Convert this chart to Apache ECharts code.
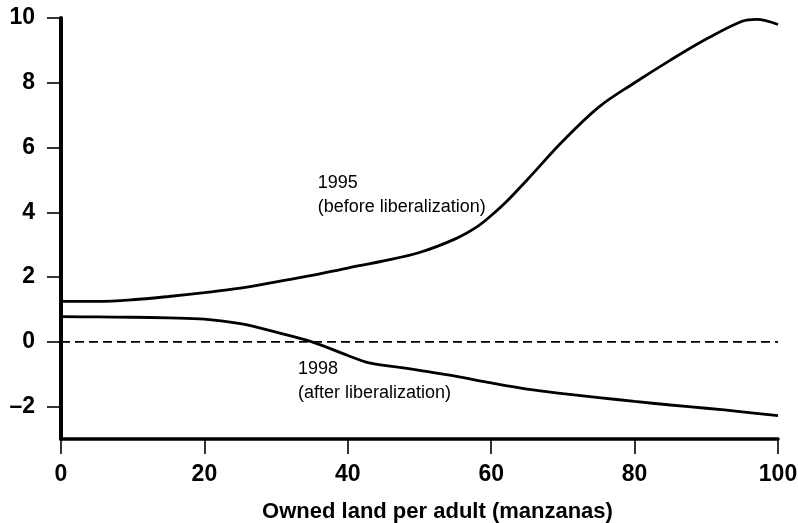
<!DOCTYPE html>
<html>
<head>
<meta charset="utf-8">
<script src="https://cdn.jsdelivr.net/npm/echarts@6/dist/echarts.min.js"></script>
<style>
  html, body { margin: 0; padding: 0; background: #fff; }
  #chart { width: 798px; height: 523px; }
</style>
</head>
<body>
<div id="chart"></div>
<script>
// owned land per adult (manzanas)
var land = [0, 5, 10, 15, 20, 25, 30, 35, 40, 45, 50, 55, 58, 60, 62, 65, 70, 75, 80, 85, 90, 95, 97, 100]
// 1995 (before liberalization)
var y1995 = [1.25, 1.25, 1.3, 1.4, 1.52, 1.66, 1.85, 2.05, 2.28, 2.5, 2.76, 3.18, 3.55, 3.9, 4.3, 5.0, 6.2, 7.25, 8.0, 8.7, 9.35, 9.9, 9.96, 9.8]
// 1998 (after liberalization)
var land98 = [0, 5, 10, 15, 20, 25, 30, 35, 40, 43, 47, 50, 55, 60, 65, 70, 75, 80, 85, 90, 95, 100]
var y1998 = [0.78, 0.77, 0.76, 0.74, 0.7, 0.56, 0.3, 0.0, -0.42, -0.65, -0.78, -0.88, -1.06, -1.27, -1.46, -1.6, -1.72, -1.84, -1.95, -2.05, -2.16, -2.28]
var yTicks = [-2, 0, 2, 4, 6, 8, 10]
var notes = [
  { at: [33.05, -0.46], text: '1998\n(after liberalization)' },
  { at: [35.8, 5.28], text: '1995\n(before liberalization)' }
]

var chart = echarts.init(document.getElementById('chart'))

function pairs(xs, ys) {
  return xs.map(function (x, i) { return [x, ys[i]] })
}

var curveStyle = { color: '#000', width: 2.8 }
var tickFont = { fontFamily: 'Liberation Sans', fontWeight: 'bold', fontSize: 23, color: '#000' }

chart.setOption({
  animation: false,
  grid: { left: 61, right: 20, top: 18, bottom: 84, outerBoundsMode: 'none' },
  xAxis: {
    type: 'value',
    min: 0,
    max: 100,
    interval: 20,
    name: 'Owned land per adult (manzanas)',
    nameLocation: 'middle',
    nameGap: 62,
    nameTextStyle: { fontFamily: 'Liberation Sans', fontWeight: 'bold', fontSize: 22, color: '#000', padding: [0, 0, 0, 36] },
    axisLine: { onZero: false, lineStyle: { color: '#000', width: 3.5 } },
    axisTick: { length: 15, lineStyle: { color: '#000', width: 1.6 } },
    axisLabel: Object.assign({ margin: 24 }, tickFont),
    splitLine: { show: false }
  },
  yAxis: {
    type: 'value',
    min: -3,
    max: 10,
    axisLine: { show: true, onZero: false, lineStyle: { color: '#000', width: 4 } },
    axisTick: { show: true, length: 14, customValues: yTicks, lineStyle: { color: '#000', width: 1.6 } },
    axisLabel: Object.assign({
      margin: 26,
      customValues: yTicks,
      formatter: function (v) { return v < 0 ? '\u2013' + Math.abs(v) : v }
    }, tickFont),
    splitLine: { show: false }
  },
  series: [
    {
      type: 'line',
      data: [[0, 0], [100, 0]],
      symbol: 'none',
      lineStyle: { color: '#000', width: 1.8, type: [9, 5] },
      silent: true
    },
    {
      name: '1995',
      type: 'line',
      data: pairs(land, y1995),
      smooth: 0.35,
      symbol: 'none',
      lineStyle: curveStyle
    },
    {
      name: '1998',
      type: 'line',
      data: pairs(land98, y1998),
      smooth: 0.35,
      symbol: 'none',
      lineStyle: curveStyle
    }
  ]
})

chart.setOption({
  graphic: notes.map(function (n) {
    var p = chart.convertToPixel({ gridIndex: 0 }, n.at)
    return {
      type: 'text',
      x: p[0],
      y: p[1],
      style: {
        text: n.text,
        font: '18px "Liberation Sans"',
        fill: '#000',
        lineHeight: 24,
        textAlign: 'left',
        textVerticalAlign: 'top'
      }
    }
  })
})
</script>
</body>
</html>
